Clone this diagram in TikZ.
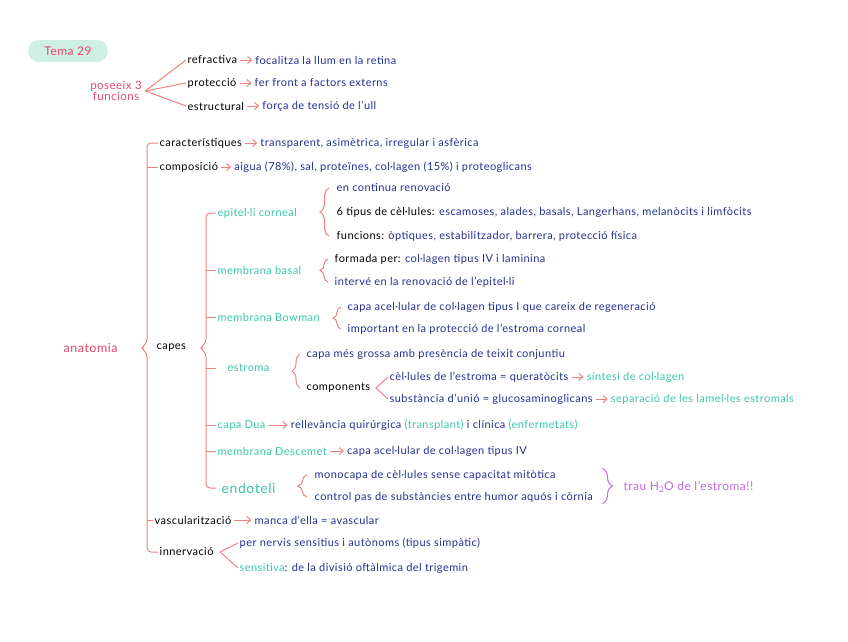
\documentclass[tikz,border=0pt]{standalone}
\usepackage{fontspec}
\setmainfont{Lato}[LetterSpace=4]
\usetikzlibrary{arrows.meta,positioning,decorations.pathreplacing,calc}
\definecolor{linepink}{HTML}{EE8080}
\definecolor{rosered}{HTML}{E4466C}
\definecolor{mint}{HTML}{38C6A8}
\definecolor{navyink}{HTML}{22308E}
\definecolor{lilac}{HTML}{C469E0}
\definecolor{pillfill}{HTML}{CFEFE5}
\begin{document}
\begin{tikzpicture}[x=1pt, y=-1pt,
  key/.style={anchor=west, inner sep=1.5pt, font=\fontsize{11}{12}\selectfont, text=black},
  info/.style={key, text=navyink},
  sub/.style={key, text=mint},
  note/.style={key, text=rosered, font=\fontsize{12.5}{13}\selectfont},
  pill/.style={rounded corners=11pt, fill=pillfill, text=rosered, minimum width=80pt,
               minimum height=22pt, font=\fontsize{12}{13}\selectfont},
  link/.style={linepink, line width=1pt},
  arr/.style={link, -{Straight Barb[length=4pt,width=7pt]}, shorten <=1.5pt, shorten >=1.5pt},
  curly/.style={link, decorate, decoration={brace, amplitude=#1}},
  curly/.default=8pt
]
\useasboundingbox (0,0) rectangle (848,641);

% funcions
\node[pill] (tema) at (68,51) {Tema 29};
\node[note, anchor=center, align=center, font=\fontsize{11.5}{11.5}\selectfont] (fun) at (116,91) {poseeix 3\\funcions};
\node[key] (refr) at (186,60) {refractiva};
\node[info, right=15pt of refr] (refr2) {focalitza la llum en la retina};
\node[key] (prot) at (186,83) {protecció};
\node[info, right=15pt of prot] (prot2) {fer front a factors externs};
\node[key] (estc) at (186,106) {estructural};
\node[info, right=15pt of estc] (estc2) {força de tensió de l'ull};
\draw[link] ([xshift=2pt]fun.east) -- (refr.west);
\draw[link] ([xshift=2pt]fun.east) -- (prot.west);
\draw[link] ([xshift=2pt]fun.east) -- (estc.west);
\draw[arr] (refr) -- (refr2);
\draw[arr] (prot) -- (prot2);
\draw[arr] (estc) -- (estc2);

% anatomia
\node[note] (anat) at (62,348) {anatomia};
\coordinate (s1) at (147,348);
\node[key] (car) at (158,143) {característiques};
\node[info, right=15pt of car] (car2) {transparent, asimètrica, irregular i asfèrica};
\node[key] (comp) at (158,167) {composició};
\node[info, right=13pt of comp] (comp2) {aigua (78\%), sal, proteïnes, col·lagen (15\%) i proteoglicans};
\node[key] (capes) at (155,348) {capes};
\node[key] (vasc) at (153,520) {vascularització};
\node[info, right=20pt of vasc] (vasc2) {manca d'ella = avascular};
\node[key] (inn) at (158,552) {innervació};
\node[info] (inn1) at (238,543) {per nervis sensitius i autònoms (tipus simpàtic)};
\node[info] (inn2) at (238,568) {\textcolor{mint}{sensitiva}: de la divisió oftàlmica del trigemin};
\draw[link, rounded corners=4pt] (car.west) -- (s1 |- car.west) -- ([yshift=5pt]s1)
  -- ([xshift=-6pt]s1) -- ([yshift=-5pt]s1) -- (s1 |- inn.west) -- (inn.west);
\draw[link] (s1 |- comp.west) -- (comp.west);
\draw[link] (s1 |- vasc.west) -- (vasc.west);
\draw[arr] (car) -- (car2);
\draw[arr] (comp) -- (comp2);
\draw[arr] (vasc) -- (vasc2);
\draw[link] (inn1.west) -- ([xshift=5pt]inn.east) -- (inn2.west);

% capes
\coordinate (s2) at (206,348);
\node[sub] (epi) at (216,213) {epitel·li corneal};
\node[sub] (basal) at (216,270) {membrana basal};
\node[sub] (bow) at (216,317) {membrana Bowman};
\node[sub] (estr) at (226,368) {estroma};
\node[sub] (dua) at (216,425) {capa Dua};
\node[sub] (desc) at (216,451) {membrana Descemet};
\node[sub, font=\fontsize{14}{15}\selectfont] (endo) at (220,488) {endoteli};
\draw[link, rounded corners=4pt] (epi.west) -- (s2 |- epi.west) -- ([yshift=5pt]s2)
  -- ([xshift=-6pt]s2) -- ([yshift=-5pt]s2) -- (s2 |- endo.west) -- ([xshift=-4pt]endo.west);
\draw[link] (s2 |- basal.west) -- (basal.west);
\draw[link] (s2 |- bow.west) -- (bow.west);
\draw[link] (s2 |- estr.west) -- ([xshift=-10pt]estr.west);
\draw[link] (s2 |- dua.west) -- (dua.west);
\draw[link] (s2 |- desc.west) -- (desc.west);

% epitel·li corneal
\node[info] (epi1) at (335,188) {en continua renovació};
\node[info] (epi2) at (335,212) {\textcolor{black}{6 tipus de cèl·lules:} escamoses, alades, basals, Langerhans, melanòcits i limfòcits};
\node[info] (epi3) at (335,236) {\textcolor{black}{funcions:} òptiques, estabilitzador, barrera, protecció física};
\draw[curly=9pt] ([xshift=-6pt]epi3.west) -- ([xshift=-6pt]epi1.west);

% membrana basal
\node[info] (bas1) at (333,259) {\textcolor{black}{formada per:} col·lagen tipus IV i laminina};
\node[info] (bas2) at (333,282) {intervé en la renovació de l'epitel·li};
\draw[curly] ([xshift=-5pt]bas2.west) -- ([xshift=-5pt]bas1.west);

% membrana Bowman
\node[info] (bow1) at (346,307) {capa acel·lular de col·lagen tipus I que careix de regeneració};
\node[info] (bow2) at (346,329) {important en la protecció de l'estroma corneal};
\draw[curly] ([xshift=-5pt]bow2.west) -- ([xshift=-5pt]bow1.west);

% estroma
\node[info] (est1) at (305,354) {capa més grossa amb presència de teixit conjuntiu};
\node[key] (comps) at (305,388) {components};
\draw[curly] ([xshift=-5pt]comps.west) -- ([xshift=-5pt]est1.west);
\node[info] (cel) at (388,377) {cèl·lules de l'estroma = queratòcits};
\node[sub, right=15pt of cel] (cel2) {síntesi de col·lagen};
\node[info] (subs) at (388,399) {substància d'unió = glucosaminoglicans};
\node[sub, right=15pt of subs] (subs2) {separació de les lamel·les estromals};
\draw[link] (cel.west) -- ([xshift=4pt]comps.east) -- (subs.west);
\draw[arr] (cel) -- (cel2);
\draw[arr] (subs) -- (subs2);

% capa Dua, Descemet
\node[info, right=22pt of dua] (dua2) {rellevància quirúrgica \textcolor{mint}{(transplant)} i clínica \textcolor{mint}{(enfermetats)}};
\node[info, right=17pt of desc] (desc2) {capa acel·lular de col·lagen tipus IV};
\draw[arr] (dua) -- (dua2);
\draw[arr] (desc) -- (desc2);

% endoteli
\node[info] (end1) at (313,475) {monocapa de cèl·lules sense capacitat mitòtica};
\node[info] (end2) at (313,497) {control pas de substàncies entre humor aquós i còrnia};
\draw[curly=9pt] ([xshift=-6pt]end2.west) -- ([xshift=-6pt]end1.west);
\node[key, text=lilac, font=\fontsize{12}{13}\selectfont] (trau) at (622,487) {trau H\textsubscript{2}O de l'estroma!!};
\draw[curly=10pt, lilac] ($(end2.east |- end1.north)+(8,0)$) -- ($(end2.south east)+(8,0)$);
\end{tikzpicture}
\end{document}
